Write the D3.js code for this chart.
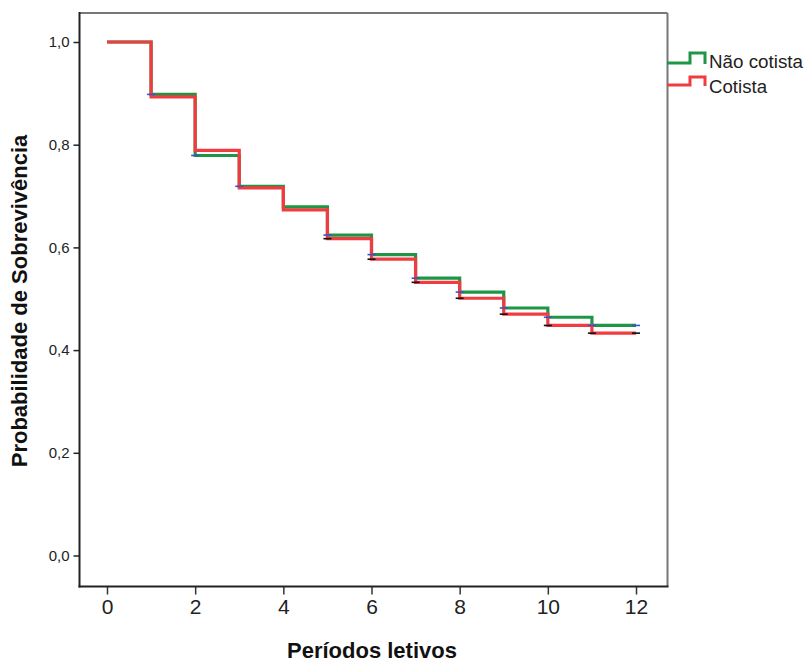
<!DOCTYPE html>
<html><head><meta charset="utf-8">
<script src="https://cdn.jsdelivr.net/npm/d3@7/dist/d3.min.js"></script>
<style>body{margin:0;background:#fff;}svg{display:block;}</style>
</head><body>
<script>
const times = [0,1,2,3,4,5,6,7,8,9,10,11,12];
const naoCotista = [1.0,0.898,0.779,0.719,0.679,0.624,0.586,0.540,0.513,0.482,0.464,0.448];
const cotista    = [1.0,0.893,0.789,0.716,0.673,0.617,0.577,0.532,0.501,0.470,0.448,0.433];
const naoCensor = [1,2,3,5,6,7,8,9,10,11,12];
const cotCensor = [5,6,7,8,9,10,11,12];
const xTicks = [0,2,4,6,8,10,12];
const yTicks = [0,0.2,0.4,0.6,0.8,1.0];
const seriesNames = ["Não cotista","Cotista"];
const seriesColors = ["#1e9646","#f03c41"];
const censorColors = ["#3d52c4","#111111"];

const W=804,H=664;
const svg=d3.select("body").append("svg").attr("width",W).attr("height",H);
const x=d3.scaleLinear().domain([0,12]).range([107,636]);
const y=d3.scaleLinear().domain([0,1]).range([555.5,42]);
const L=79.5,R=667.5,T=13,B=586.5;
const FF="Liberation Sans, Arial, sans-serif";
const fmt=d=>d3.format(".1f")(d).replace(".",",");

// frame
svg.append("line").attr("x1",L).attr("x2",R).attr("y1",T).attr("y2",T).attr("stroke","#777").attr("stroke-width",2);
svg.append("line").attr("x1",R).attr("x2",R).attr("y1",T).attr("y2",B).attr("stroke","#777").attr("stroke-width",2);

// y axis
const ya=svg.append("g").attr("transform",`translate(${L},0)`)
 .call(d3.axisLeft(y).tickValues(yTicks).tickSize(6).tickSizeOuter(0).tickFormat(fmt));
ya.select(".domain").remove();
ya.append("line").attr("x1",0).attr("x2",0).attr("y1",T-1).attr("y2",B+1).attr("stroke","#222").attr("stroke-width",2);
ya.selectAll(".tick line").attr("stroke","#222").attr("stroke-width",1.5);
ya.selectAll(".tick text").attr("font-family",FF).attr("font-size",15).attr("fill","#222").attr("x",-10);

// x axis
const xa=svg.append("g").attr("transform",`translate(0,${B})`)
 .call(d3.axisBottom(x).tickValues(xTicks).tickSize(8).tickSizeOuter(0));
xa.select(".domain").remove();
xa.append("line").attr("x1",L-1).attr("x2",R+1).attr("y1",0).attr("y2",0).attr("stroke","#222").attr("stroke-width",2);
xa.selectAll(".tick line").attr("stroke","#333").attr("stroke-width",1.5);
xa.selectAll(".tick text").attr("font-family","Liberation Sans Narrow, Liberation Sans, Arial, sans-serif")
  .attr("font-size",21).attr("fill","#222").attr("y",13);

// titles
svg.append("text").attr("x",372).attr("y",658).attr("text-anchor","middle")
 .attr("font-family",FF).attr("font-weight","bold").attr("font-size",22).attr("fill","#111").text("Períodos letivos");
svg.append("text").attr("transform","translate(27,301) rotate(-90)").attr("text-anchor","middle")
 .attr("font-family",FF).attr("font-weight","bold").attr("font-size",22).attr("fill","#111").text("Probabilidade de Sobrevivência");

// step lines
function stepPts(vals){
  const pts=[];
  vals.forEach((v,i)=>{pts.push([times[i],v]);pts.push([times[i+1],v]);});
  return pts;
}
const line=d3.line().x(d=>x(d[0])).y(d=>y(d[1]));
[naoCotista,cotista].forEach((vals,k)=>{
  svg.append("path").attr("d",line(stepPts(vals))).attr("fill","none")
   .attr("stroke",seriesColors[k]).attr("stroke-width",3.2).attr("stroke-linejoin","miter").attr("stroke-linecap","butt");
});
// censor marks
[[naoCensor,naoCotista],[cotCensor,cotista]].forEach(([cs,vals],k)=>{
  svg.append("g").selectAll("line").data(cs).join("line")
   .attr("x1",d=>x(d)-4).attr("x2",d=>x(d)+4)
   .attr("y1",d=>y(vals[Math.min(d,vals.length-1)])).attr("y2",d=>y(vals[Math.min(d,vals.length-1)]))
   .attr("stroke",censorColors[k]).attr("stroke-width",1.6);
});

// legend
const legY=[[63,53],[85,77]];
const legW=[94,58];
seriesNames.forEach((n,k)=>{
  const [lo,hi]=legY[k];
  svg.append("path").attr("d",`M667,${lo}H690V${hi}H705V${lo+1}`).attr("fill","none")
   .attr("stroke",seriesColors[k]).attr("stroke-width",3);
  svg.append("text").attr("x",709).attr("y",[68,93][k]).attr("font-family",FF)
   .attr("font-size",17.5).attr("textLength",legW[k]).attr("lengthAdjust","spacingAndGlyphs")
   .attr("fill","#222").text(n);
});
</script>
</body></html>
